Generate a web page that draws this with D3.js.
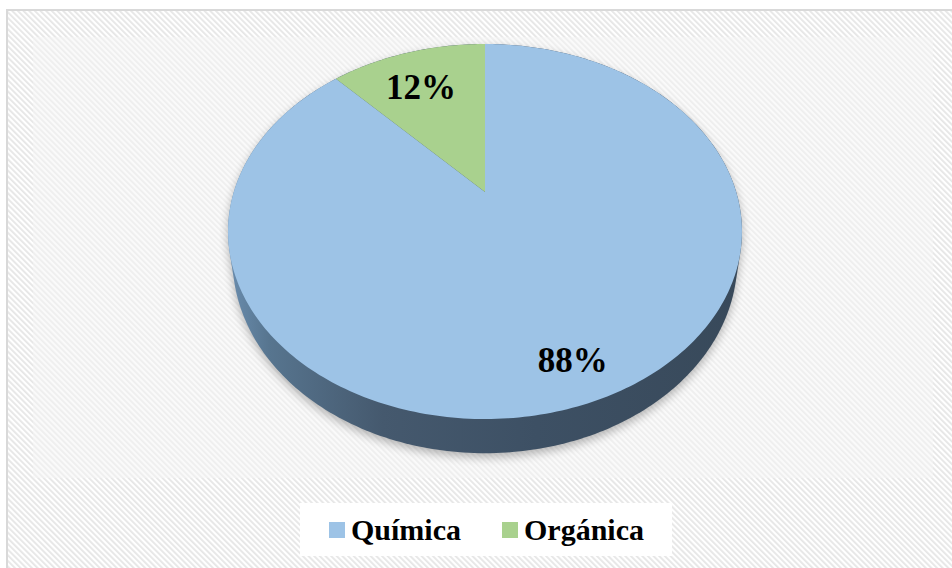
<!DOCTYPE html>
<html>
<head>
<meta charset="utf-8">
<script src="https://cdn.jsdelivr.net/npm/d3@7"></script>
<style>
  html, body { margin: 0; padding: 0; background: #ffffff; }
  svg { display: block; }
</style>
</head>
<body>
<svg id="chart" width="952" height="568"></svg>
<script>
// Chart data
const categories = ["Química", "Orgánica"];
const values = [88, 12];
const colors = ["#9dc3e6", "#a9d18e"];
const labels = ["88%", "12%"];

const svg = d3.select("#chart");
const defs = svg.append("defs");

// Diagonal hatch backgrounds
function hatch(id, bg, stripe, width) {
  const p = defs.append("pattern")
    .attr("id", id)
    .attr("patternUnits", "userSpaceOnUse")
    .attr("width", 4).attr("height", 4)
    .attr("patternTransform", "rotate(-45)");
  p.append("rect").attr("width", 4).attr("height", 4).attr("fill", bg);
  p.append("rect").attr("width", width).attr("height", 4).attr("fill", stripe);
}
hatch("hatchOuter", "#ffffff", "#e6e6e6", 1.8);
hatch("hatchInner", "#fafafa", "#eeeeee", 1.8);

// Side gradient of the pie slab
const sideGrad = defs.append("linearGradient")
  .attr("id", "sideGrad")
  .attr("x1", "0%").attr("x2", "100%").attr("y1", "0%").attr("y2", "0%");
[["0%", "#6a8dae"], ["8%", "#57758f"], ["30%", "#45596e"], ["60%", "#3d5064"], ["100%", "#38495a"]]
  .forEach(([o, c]) => sideGrad.append("stop").attr("offset", o).attr("stop-color", c));

const shadow = defs.append("filter").attr("id", "softShadow")
  .attr("x", "-10%").attr("y", "-10%").attr("width", "120%").attr("height", "130%");
shadow.append("feGaussianBlur").attr("stdDeviation", 5);

// Chart area and plot area
svg.append("rect")
  .attr("x", 7).attr("y", 10).attr("width", 970).attr("height", 600)
  .attr("fill", "url(#hatchOuter)")
  .attr("stroke", "#d9d9d9").attr("stroke-width", 2);
svg.append("rect")
  .attr("x", 33).attr("y", 37).attr("width", 900).attr("height", 441)
  .attr("fill", "url(#hatchInner)");

// Perspective projection of the tilted pie disc
const CX = 485, CY = 192;      // projected centre of the disc
const A = 251.2, B = 179.2;    // horizontal / depth radii
const P = 0.2107;              // perspective strength
const DEPTH = 27;              // slab thickness
const SHRINK = 0.982;          // lower rim converges toward the vanishing point

function proj(theta, r, drop) {
  const u = Math.sin(theta) * r;
  const v = -Math.cos(theta) * r;
  const w = 1 - P * v;
  const k = drop ? SHRINK : 1;
  return [CX + k * A * u / w, CY + (B * v + (drop || 0)) / w];
}

const pie = d3.pie().sort(null).value(d => d)(values);
const line = d3.line().curve(d3.curveLinear);

// Silhouette of the slab (top rim + bottom rim)
const N = 360;
const rimPts = [];
for (let i = 0; i < N; i++) {
  const t = (i / N) * 2 * Math.PI;
  rimPts.push(proj(t, 1, 0));
  rimPts.push(proj(t, 1, DEPTH));
}
const hull = d3.polygonHull(rimPts);

const g = svg.append("g");

// Soft shadow under the slab
g.append("path")
  .attr("d", line(hull.map(p => [p[0], p[1] + 4])) + "Z")
  .attr("fill", "#000000")
  .attr("opacity", 0.28)
  .attr("filter", "url(#softShadow)");

// Slab side
g.append("path")
  .attr("d", line(hull) + "Z")
  .attr("fill", "url(#sideGrad)");

// Top faces of the slices
function slicePath(d) {
  const pts = [proj(0, 0, 0)];
  const steps = Math.max(2, Math.ceil((d.endAngle - d.startAngle) / (Math.PI / 180)));
  for (let i = 0; i <= steps; i++) {
    const t = d.startAngle + (d.endAngle - d.startAngle) * i / steps;
    pts.push(proj(t, 1, 0));
  }
  return line(pts) + "Z";
}
g.selectAll("path.slice")
  .data(pie)
  .join("path")
  .attr("class", "slice")
  .attr("d", slicePath)
  .attr("fill", (d, i) => colors[i]);

// Data labels
const FS = 35;
g.selectAll("text.value")
  .data(pie)
  .join("text")
  .attr("class", "value")
  .attr("x", d => proj((d.startAngle + d.endAngle) / 2, 0.8, 0)[0])
  .attr("y", d => proj((d.startAngle + d.endAngle) / 2, 0.8, 0)[1] + 10 + FS * 0.34)
  .attr("text-anchor", "middle")
  .attr("font-family", "'Liberation Serif', 'Times New Roman', serif")
  .attr("font-weight", "bold")
  .attr("font-size", FS)
  .attr("fill", "#000000")
  .text((d, i) => labels[i]);

// Legend
svg.append("rect")
  .attr("x", 300).attr("y", 503).attr("width", 372).attr("height", 53)
  .attr("fill", "#ffffff");
const legendX = [329, 502];
const lg = svg.selectAll("g.legend")
  .data(categories)
  .join("g")
  .attr("class", "legend")
  .attr("transform", (d, i) => `translate(${legendX[i]},522)`);
lg.append("rect")
  .attr("width", 16).attr("height", 16)
  .attr("fill", (d, i) => colors[i]);
lg.append("text")
  .attr("x", 22).attr("y", 18)
  .attr("font-family", "'Liberation Serif', 'Times New Roman', serif")
  .attr("font-weight", "bold")
  .attr("font-size", 30)
  .attr("fill", "#000000")
  .text(d => d);
</script>
</body>
</html>
